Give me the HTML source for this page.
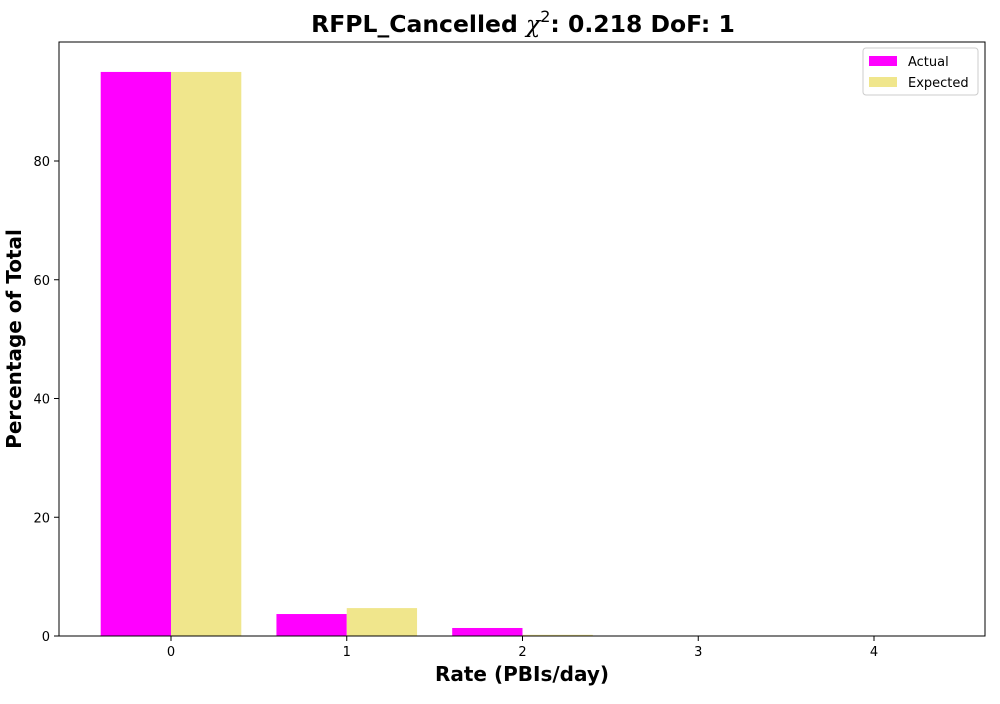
<!DOCTYPE html>
<html><head><meta charset="utf-8"><style>
body{margin:0;background:#fff;font-family:"DejaVu Sans","Liberation Sans",sans-serif;}
</style></head><body>
<svg id="chart" width="1000" height="700" xmlns="http://www.w3.org/2000/svg" font-family="DejaVu Sans, Liberation Sans, sans-serif">
<text x="523" y="32" text-anchor="middle" font-size="23.5" font-weight="bold">RFPL_Cancelled <tspan font-style="italic" font-weight="normal" font-family="DejaVu Serif,serif">χ</tspan><tspan font-size="16" font-weight="normal" dy="-10">2</tspan><tspan dy="10">: 0.218 DoF: 1</tspan></text>
<g id="bars"></g>
<rect x="59" y="42" width="926" height="594" fill="none" stroke="#000" stroke-width="1"/>
<g id="axes" font-size="13"></g>
<text x="522" y="681" text-anchor="middle" font-size="20" font-weight="bold">Rate (PBIs/day)</text>
<text transform="translate(21,339) rotate(-90)" text-anchor="middle" font-size="20" font-weight="bold">Percentage of Total</text>
<g>
<rect x="863" y="48" width="115" height="47" fill="#fff" stroke="#ccc" rx="3"/>
<rect x="869" y="56" width="28" height="10" fill="#ff00ff"/>
<text x="908" y="66" font-size="13">Actual</text>
<rect x="869" y="77" width="28" height="10" fill="#f0e68c"/>
<text x="908" y="87" font-size="13">Expected</text>
</g>
</svg>
<script>
const categories=[0,1,2,3,4];
const actual=[95,3.7,1.35,0,0];
const expected=[95,4.7,0.2,0,0];
const yTicks=[0,20,40,60,80];
const NS="http://www.w3.org/2000/svg";
const x=v=>171+(v)*175.75;
const y=v=>636-v*5.9375;
const bars=document.getElementById('bars'),axes=document.getElementById('axes');
function mk(t,a,p){const e=document.createElementNS(NS,t);for(const k in a)e.setAttribute(k,a[k]);p.appendChild(e);return e;}
categories.forEach((c,i)=>{
 const r1=mk('rect',{x:x(c-0.4),y:y(actual[i]),width:x(0.4)-x(0),height:636-y(actual[i]),fill:'#ff00ff'},bars);
 
 
 const r2=mk('rect',{x:x(c),y:y(expected[i]),width:x(0.4)-x(0),height:636-y(expected[i]),fill:'#f0e68c'},bars);
 
 
 const t=mk('line',{x1:x(c),x2:x(c),y1:636,y2:641,stroke:'#000'},axes);
 
 
 const l=mk('text',{x:x(c),y:656,'text-anchor':'middle'},axes);l.textContent=c;
 
 
});
yTicks.forEach(v=>{
 const t=mk('line',{x1:54,x2:59,y1:y(v),y2:y(v),stroke:'#000'},axes);
 
 
 const l=mk('text',{x:50,y:y(v)+5,'text-anchor':'end'},axes);l.textContent=v;
 
 
});
</script>
</body></html>
